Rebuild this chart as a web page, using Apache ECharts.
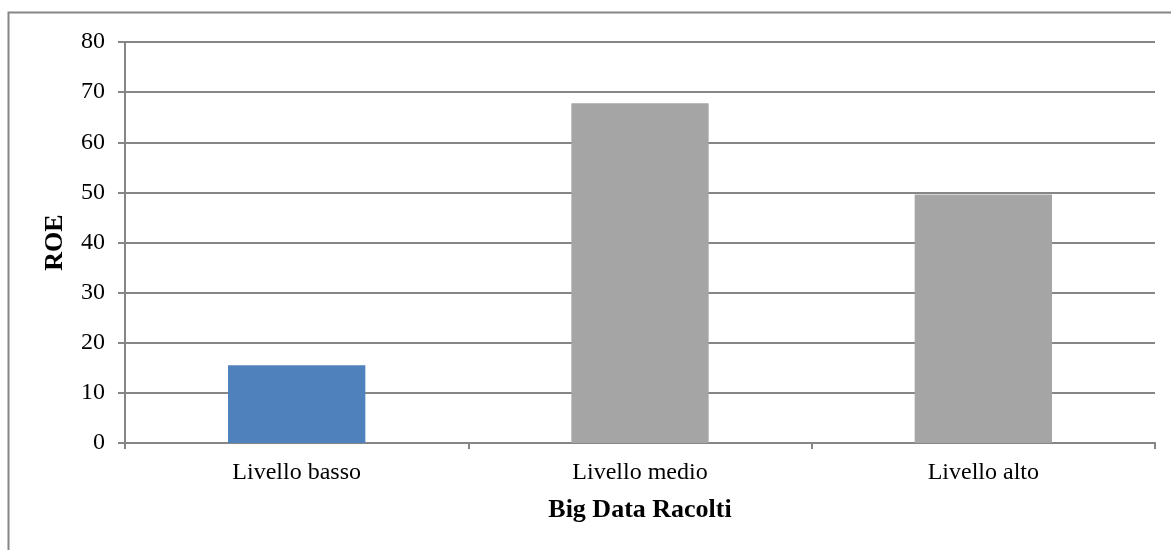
<!DOCTYPE html>
<html>
<head>
<meta charset="utf-8">
<script src="https://cdn.jsdelivr.net/npm/echarts@6/dist/echarts.min.js"></script>
<style>
  html, body { margin: 0; padding: 0; background: #fff; }
  #chart { width: 1171px; height: 550px; }
</style>
</head>
<body>
<div id="chart"></div>
<script>
// Categories and ROE values per level of collected big data
const categories = ['Livello basso', 'Livello medio', 'Livello alto'];
const roeValues = [15.5, 67.8, 49.6];
const barColors = ['#4F81BD', '#A5A5A5', '#A5A5A5'];
const yTicks = { min: 0, max: 80, interval: 10 };

const axisGray = '#868686';
const fontFamily = '"Liberation Serif", "Times New Roman", serif';

const chart = echarts.init(document.getElementById('chart'));
chart.setOption({
  animation: false,
  backgroundColor: '#fff',
  textStyle: { fontFamily: fontFamily },
  graphic: [{
    type: 'rect',
    shape: { x: 8.5, y: 12.5, width: 1300, height: 700 },
    style: { fill: 'none', stroke: axisGray, lineWidth: 2 },
    silent: true,
    z: -1
  }],
  grid: { left: 125, right: 16, top: 42, bottom: 107, containLabel: false },
  xAxis: {
    type: 'category',
    data: categories,
    name: 'Big Data Racolti',
    nameLocation: 'middle',
    nameGap: 54,
    nameTextStyle: { fontFamily: fontFamily, fontSize: 26, fontWeight: 'bold', color: '#000' },
    axisLine: { show: true, lineStyle: { color: axisGray, width: 2 } },
    axisTick: { show: true, alignWithLabel: false, length: 6, lineStyle: { color: axisGray, width: 2 } },
    axisLabel: { fontFamily: fontFamily, fontSize: 24, color: '#000', margin: 18 },
    splitLine: { show: false }
  },
  yAxis: {
    type: 'value',
    min: yTicks.min,
    max: yTicks.max,
    interval: yTicks.interval,
    name: 'ROE',
    nameLocation: 'middle',
    nameGap: 57,
    nameRotate: 90,
    nameTextStyle: { fontFamily: fontFamily, fontSize: 26, fontWeight: 'bold', color: '#000' },
    axisLine: { show: true, lineStyle: { color: axisGray, width: 2 } },
    axisTick: { show: true, length: 7, lineStyle: { color: axisGray, width: 2 } },
    axisLabel: { fontFamily: fontFamily, fontSize: 24, color: '#000', margin: 20 },
    splitLine: { show: true, lineStyle: { color: axisGray, width: 2 } }
  },
  series: [{
    type: 'bar',
    barWidth: '40%',
    data: roeValues.map((v, i) => ({ value: v, itemStyle: { color: barColors[i] } })),
    z: 3
  }]
});
</script>
</body>
</html>
